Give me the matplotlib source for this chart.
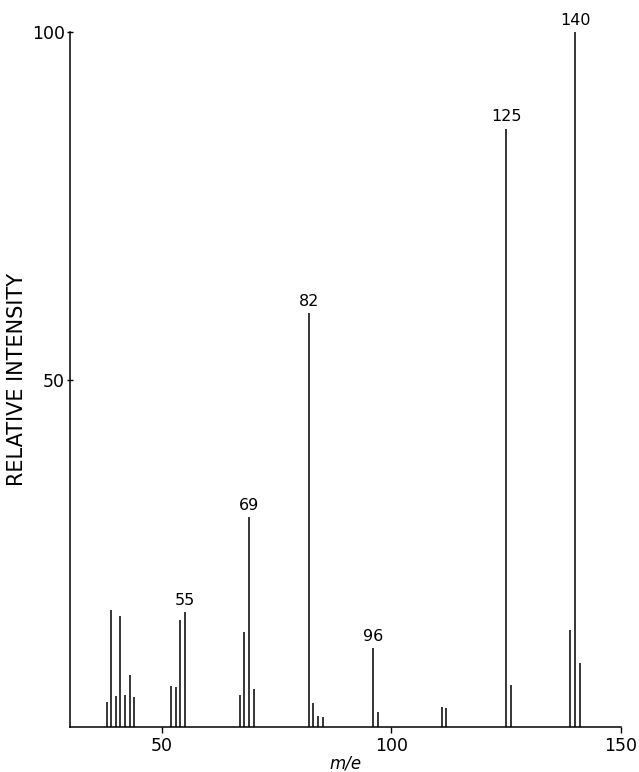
import matplotlib.pyplot as plt

plt.rcParams['font.family'] = ['DejaVu Sans']

# mass spectrum: m/e and relative intensity
mz = [38, 39, 40, 41, 42, 43, 44,
      52, 53, 54, 55,
      67, 68, 69, 70,
      82, 83, 84, 85,
      96, 97,
      111, 112,
      125, 126,
      139, 140, 141]
intensity = [3.6, 16.8, 4.4, 15.9, 4.6, 7.5, 4.3,
             5.9, 5.7, 15.4, 16.5,
             4.6, 13.6, 30.2, 5.5,
             59.6, 3.5, 1.6, 1.5,
             11.3, 2.2,
             2.9, 2.7,
             86.1, 6.0,
             13.9, 100.0, 9.2]
labelled = [55, 69, 82, 96, 125, 140]

fig = plt.figure(figsize=(6.39, 7.72), dpi=100)
ax = fig.add_axes([0.1095, 0.0583, 0.8623, 0.9002])

ax.vlines(mz, 0, intensity, color='black', lw=1.1)

for m in labelled:
    h = intensity[mz.index(m)]
    ax.annotate(str(m), (m, h), xytext=(0, 3), textcoords='offset points',
                ha='center', va='bottom', fontsize=11.5)

ax.set_xlim(30, 150)
ax.set_ylim(0, 100)
ax.set_xticks([50, 100, 150])
ax.set_yticks([50, 100])
ax.tick_params(axis='x', direction='out', length=4, width=1, labelsize=12.5, pad=3)
ax.tick_params(axis='y', direction='inout', length=5, width=1, labelsize=12.5, pad=1)

for side in ['top', 'right']:
    ax.spines[side].set_visible(False)
for side in ['left', 'bottom']:
    ax.spines[side].set_linewidth(1.1)

ax.set_xlabel('m/e', fontsize=12, style='italic', labelpad=0)
ax.set_ylabel('RELATIVE INTENSITY', fontsize=15, labelpad=4)

fig.savefig('out.png', dpi=100)
